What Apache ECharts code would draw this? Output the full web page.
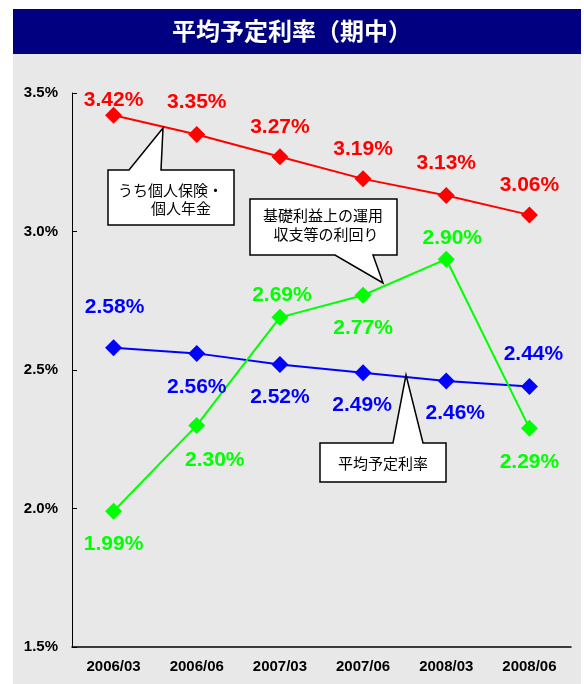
<!DOCTYPE html>
<html>
<head>
<meta charset="utf-8">
<script src="https://cdn.jsdelivr.net/npm/echarts@6/dist/echarts.min.js"></script>
<style>
  html, body { margin: 0; padding: 0; background: #fff; }
  #chart { width: 584px; height: 684px; }
</style>
</head>
<body>
<div id="chart"></div>
<script>
// data
var categories = ['2006/03', '2006/06', '2007/03', '2007/06', '2008/03', '2008/06'];
var personalRate = [3.42, 3.35, 3.27, 3.19, 3.13, 3.06];   // うち個人保険・個人年金
var investYield = [1.99, 2.30, 2.69, 2.77, 2.90, 2.29];    // 基礎利益上の運用収支等の利回り
var averageRate = [2.58, 2.56, 2.52, 2.49, 2.46, 2.44];    // 平均予定利率
var yTicks = [1.5, 2.0, 2.5, 3.0, 3.5];

// label offsets [dx, dy] from each marker (layout only)
var redOffsets = [[0, -15], [0, -32], [0, -30], [0, -30], [0, -32], [0, -30]];
var greenOffsets = [[0, 33], [18, 35], [2, -22], [0, 33], [6, -21], [0, 34]];
var blueOffsets = [[1, -41], [0, 34], [0, 33], [-1, 32], [9, 32], [4, -32]];

var numFont = 'Liberation Sans, Arial, sans-serif';
var jpFont = 'Noto Sans CJK JP, sans-serif';

function withLabels(values, offsets) {
  return values.map(function (v, i) {
    return { value: v, label: { offset: offsets[i] } };
  });
}

function lineSeries(name, values, offsets, color) {
  return {
    name: name,
    type: 'line',
    data: withLabels(values, offsets),
    symbol: 'diamond',
    symbolSize: 17,
    lineStyle: { color: color, width: 2 },
    itemStyle: { color: color },
    label: {
      show: true,
      position: 'inside',
      color: color,
      fontFamily: numFont,
      fontWeight: 'bold',
      fontSize: 21,
      formatter: function (p) { return p.value.toFixed(2) + '%'; }
    },
    emphasis: { disabled: true },
    z: 3
  };
}

function callout(points, lines) {
  var els = [{
    type: 'polygon',
    shape: { points: points },
    style: { fill: '#fff', stroke: '#000', lineWidth: 1.5 },
    z: 20
  }];
  lines.forEach(function (l) {
    els.push({
      type: 'text',
      style: {
        text: l.text, x: l.x, y: l.y,
        align: l.align || 'center', verticalAlign: 'middle',
        fontFamily: jpFont, fontSize: 15, fill: '#000'
      },
      z: 21
    });
  });
  return els;
}

var chart = echarts.init(document.getElementById('chart'), null, { renderer: 'canvas' });

var graphics = [
  { type: 'rect', shape: { x: 13, y: 54, width: 568, height: 630 }, style: { fill: '#e8e8e8' }, z: -10 },
  { type: 'rect', shape: { x: 13, y: 9, width: 568, height: 45 }, style: { fill: '#000080' }, z: -10 }
]
  .concat(callout(
    [[108, 170], [129, 170], [163, 128], [161, 170], [234, 170], [234, 225], [108, 225]],
    [{ text: 'うち個人保険・', x: 118, y: 190, align: 'left' },
     { text: '個人年金', x: 151, y: 208, align: 'left' }]
  ))
  .concat(callout(
    [[250, 199], [397, 199], [397, 255], [373, 255], [383, 283], [335, 255], [250, 255]],
    [{ text: '基礎利益上の運用', x: 323, y: 215 },
     { text: '収支等の利回り', x: 326, y: 234 }]
  ))
  .concat(callout(
    [[320, 443], [393, 443], [406, 375], [423, 443], [446, 443], [446, 482], [320, 482]],
    [{ text: '平均予定利率', x: 383, y: 463 }]
  ));

chart.setOption({
  animation: false,
  backgroundColor: '#fff',
  title: {
    text: '平均予定利率（期中）',
    left: 'center',
    top: 19,
    padding: [0, 0, 0, 6],
    textStyle: { color: '#fff', fontFamily: jpFont, fontWeight: 'bold', fontSize: 24 }
  },
  graphic: graphics,
  grid: { left: 72, right: 13, top: 93, bottom: 37 },
  xAxis: {
    type: 'category',
    data: categories,
    boundaryGap: true,
    axisLine: { lineStyle: { color: '#000', width: 1.5 } },
    axisTick: { inside: true, length: 4, lineStyle: { color: '#000' } },
    axisLabel: { color: '#000', fontFamily: numFont, fontWeight: 'bold', fontSize: 15, margin: 12 },
    splitLine: { show: false }
  },
  yAxis: {
    type: 'value',
    min: yTicks[0],
    max: yTicks[yTicks.length - 1],
    interval: 0.5,
    axisLine: { show: true, lineStyle: { color: '#000', width: 1 } },
    axisTick: { show: true, inside: true, length: 5, lineStyle: { color: '#000' } },
    axisLabel: {
      color: '#000', fontFamily: numFont, fontWeight: 'bold', fontSize: 15, margin: 14,
      formatter: function (v) { return v.toFixed(1) + '%'; }
    },
    splitLine: { show: false }
  },
  series: [
    lineSeries('平均予定利率', averageRate, blueOffsets, '#0000ff'),
    lineSeries('基礎利益上の運用収支等の利回り', investYield, greenOffsets, '#00ff00'),
    lineSeries('うち個人保険・個人年金', personalRate, redOffsets, '#ff0000')
  ]
});
</script>
</body>
</html>
